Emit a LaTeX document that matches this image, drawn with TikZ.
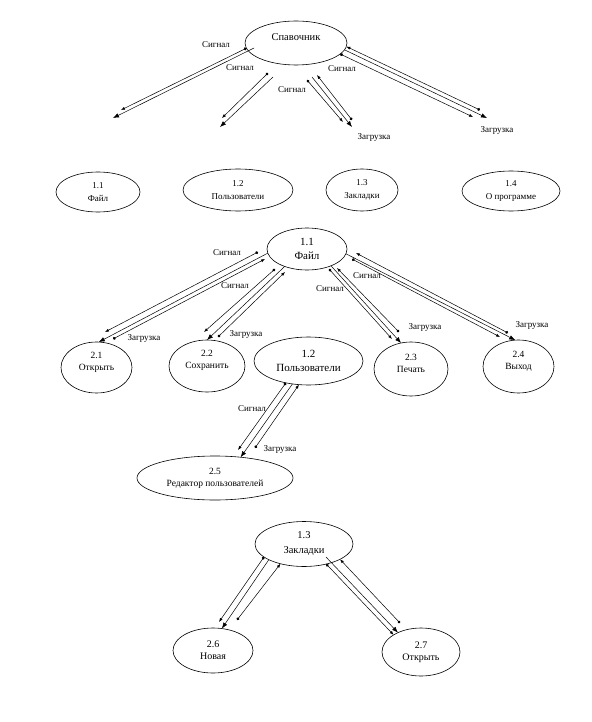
\documentclass[tikz,border=0pt]{standalone}
\usepackage{fontspec}
\setmainfont{Liberation Serif}
\usetikzlibrary{arrows.meta, shapes.geometric}

\tikzset{
  proc/.style={ellipse, draw, line width=0.6pt, inner sep=0pt, outer sep=0pt, align=center, font=\fontsize{9}{13}\selectfont},
  bigtext/.style={font=\fontsize{11}{14.5}\selectfont},
  subtext/.style={font=\fontsize{9.5}{12}\selectfont},
  hightext/.style={label={[subtext, align=center, yshift=5.5pt]center:#1}},
  lbl/.style={inner sep=0pt, font=\fontsize{9}{10}\selectfont},
  flow/.style={line width=0.5pt},
  sig/.style={flow, {Circle[length=3pt]}-{Latex[length=4pt,width=3pt]}},
  load/.style={flow, -{Latex[length=6pt,width=4.5pt]}}
}

\begin{document}
\begin{tikzpicture}[x=1pt, y=-1pt]
\useasboundingbox (0,0) rectangle (591,722);

% top
\node[proc, minimum width=102, minimum height=44, label={[font=\fontsize{10.5}{12}\selectfont, yshift=6pt]center:Спавочник}] (spr) at (296,43) {};

\coordinate (t1) at (121,110);
\coordinate (t2a) at (254,48);
\coordinate (t2) at (113,118);
\coordinate (t3a) at (268,73);
\coordinate (t3) at (222,118);
\coordinate (t4a) at (273,77);
\coordinate (t4) at (220,127);
\coordinate (t5a) at (307,80);
\coordinate (t5) at (343,122);
\coordinate (t6a) at (312,77);
\coordinate (t6) at (352,127);
\coordinate (t7a) at (352,120);
\coordinate (t7) at (317,75);
\coordinate (t8) at (473,117);
\coordinate (t9) at (487,118);
\coordinate (t10a) at (480,110);

\draw[sig] (spr.186) -- (t1);
\draw[load] (t2a) -- (t2);
\draw[sig] (t3a) -- (t3);
\draw[load] (t4a) -- (t4);
\draw[sig] (t5a) -- (t5);
\draw[load] (t6a) -- (t6);
\draw[sig] (t7a) -- (t7);
\draw[sig] (spr.346) -- (t8);
\draw[load] (spr.352) -- (t9);
\draw[sig] (t10a) -- (spr.356);

\node[lbl] (l1) at (216,45) {Сигнал};
\node[lbl] (l2) at (240,68) {Сигнал};
\node[lbl] (l3) at (292,90) {Сигнал};
\node[lbl] (l4) at (342,69) {Сигнал};
\node[lbl] (l5) at (374,137) {Загрузка};
\node[lbl] (l6) at (497,130) {Загрузка};

\node[proc, minimum width=84, minimum height=40] (r11) at (98,192) {1.1\\Файл};
\node[proc, minimum width=110, minimum height=42] (r12) at (238,190) {1.2\\Пользователи};
\node[proc, minimum width=72, minimum height=42] (r13) at (362,190) {1.3\\Закладки};
\node[proc, minimum width=98, minimum height=40] (r14) at (511,191) {1.4\\О программе};

% file
\node[proc, bigtext, minimum width=80, minimum height=42] (f11) at (307,249) {1.1\\Файл};
\node[proc, minimum width=71, minimum height=51, hightext={2.1\\Открыть}] (o21) at (96.5,367.5) {};
\node[proc, minimum width=76, minimum height=52, hightext={2.2\\Сохранить}] (s22) at (207,366) {};
\node[proc, bigtext, minimum width=109, minimum height=48] (u12) at (308.5,361) {1.2\\Пользователи};
\node[proc, minimum width=74, minimum height=54, hightext={2.3\\Печать}] (s23) at (411,369) {};
\node[proc, minimum width=71, minimum height=53, hightext={2.4\\Выход}] (s24) at (518.5,366.5) {};
\node[proc, subtext, minimum width=156, minimum height=44] (e25) at (215,478) {2.5\\Редактор пользователей};

\coordinate (s1a) at (258,252);
\coordinate (s1) at (105,332);
\coordinate (s3a) at (113,339);
\coordinate (s3) at (265,259);
\coordinate (s4a) at (275,269);
\coordinate (s4) at (204,332);
\coordinate (s6a) at (218,337);
\coordinate (s6) at (285,272);
\coordinate (s7a) at (329,269);
\coordinate (s7) at (392,339);
\coordinate (s9a) at (399,332);
\coordinate (s9) at (337,268);
\coordinate (s10a) at (352,259);
\coordinate (s10) at (500,337);
\coordinate (s12a) at (508,333);
\coordinate (s12) at (356,253);

\draw[sig] (s1a) -- (s1);
\draw[load] (f11.186) -- (o21.85);
\draw[sig] (s3a) -- (s3);
\draw[sig] (s4a) -- (s4);
\draw[load] (f11.218) -- (s22.north);
\draw[sig] (s6a) -- (s6);
\draw[sig] (s7a) -- (s7);
\draw[load] (f11.325) -- (s23.111);
\draw[sig] (s9a) -- (s9);
\draw[sig] (s10a) -- (s10);
\draw[load] (f11.353) -- (s24.97);
\draw[sig] (s12a) -- (s12);

\coordinate (u1) at (238,450);
\coordinate (u3a) at (255,448);
\draw[sig] (u12.224) -- (u1);
\draw[load] (u12.235) -- (e25.39);
\draw[sig] (u3a) -- (u12.248);

\node[lbl] (m1) at (227,253) {Сигнал};
\node[lbl] (m2) at (235,286) {Сигнал};
\node[lbl] (m3) at (144,338) {Загрузка};
\node[lbl] (m4) at (246,334) {Загрузка};
\node[lbl] (m5) at (330,289) {Сигнал};
\node[lbl] (m6) at (367,276) {Сигнал};
\node[lbl] (m7) at (425,327) {Загрузка};
\node[lbl] (m8) at (532,325) {Загрузка};
\node[lbl] (m9) at (252,409) {Сигнал};
\node[lbl] (m10) at (280,449) {Загрузка};

% bookmarks
\node[proc, minimum width=98, minimum height=45, font=\fontsize{10.5}{15}\selectfont] (z13) at (304,544) {1.3\\Закладки};
\node[proc, minimum width=80, minimum height=45, font=\fontsize{10}{12}\selectfont] (n26) at (213,650.5) {2.6\\Новая};
\node[proc, minimum width=78, minimum height=48, font=\fontsize{10}{12}\selectfont] (o27) at (421,652) {2.7\\Открыть};

\coordinate (z1) at (219,622);
\coordinate (z3a) at (237,620);
\coordinate (z5a) at (326,557);
\coordinate (z6a) at (400,623);

\draw[sig] (z13.198) -- (z1);
\draw[load] (z13.204) -- (n26.68);
\draw[sig] (z3a) -- (z13.220);
\draw[sig] (z13.318) -- (o27.148);
\draw[load] (z5a) -- (o27.140);
\draw[sig] (z6a) -- (z13.337);
\end{tikzpicture}
\end{document}
